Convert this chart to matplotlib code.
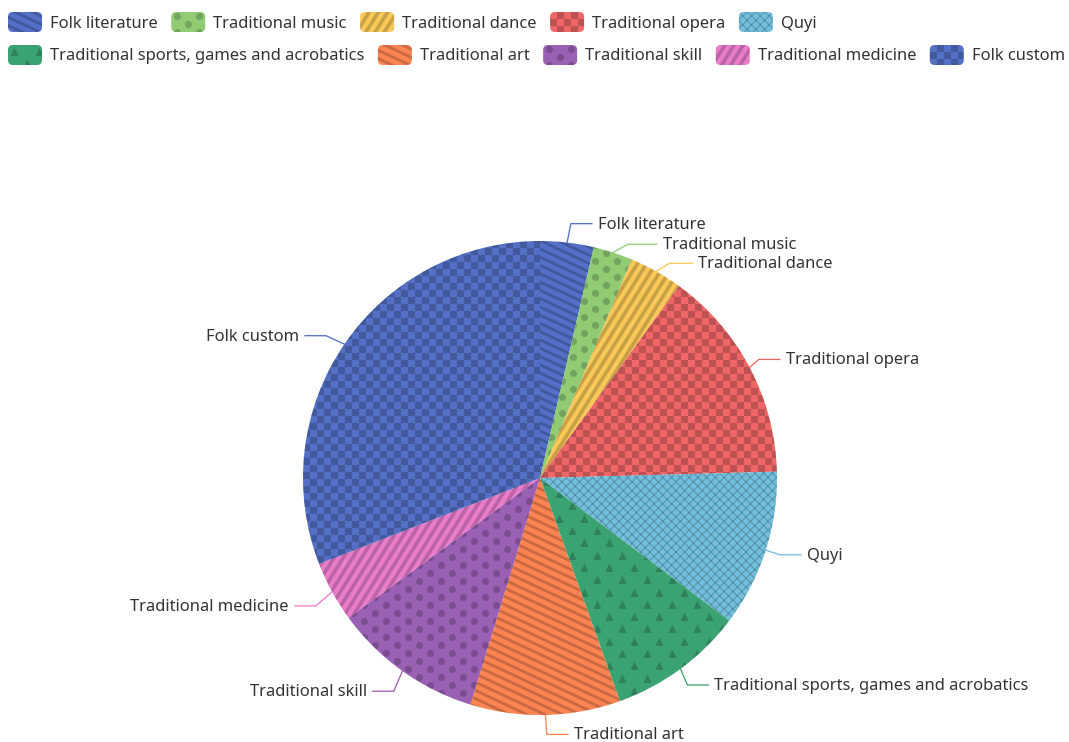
import matplotlib.pyplot as plt
import numpy as np
from matplotlib.patches import FancyBboxPatch
from matplotlib.collections import LineCollection

plt.rcParams['font.family'] = ['Noto Sans', 'DejaVu Sans']

categories = ['Folk literature', 'Traditional music', 'Traditional dance',
              'Traditional opera', 'Quyi', 'Traditional sports, games and acrobatics',
              'Traditional art', 'Traditional skill', 'Traditional medicine', 'Folk custom']
counts = [15, 11, 15, 60, 44, 38, 42, 42, 17, 127]

colors = ['#5470c6', '#91cc75', '#fac858', '#ee6666', '#73c0de',
          '#3ba272', '#fc8452', '#9a60b4', '#ea7ccc', '#5470c6']
# fill decoration for each slice
decals = ['back', 'dots', 'fwd', 'checker', 'cross',
          'triangles', 'back', 'dots', 'fwd', 'checker']

W, H, DPI = 1069, 742, 100
SHADE = (0, 0, 0, 0.2)
FS = 11.9
TXT = '#333333'

fig = plt.figure(figsize=(W / DPI, H / DPI), dpi=DPI)
ax = fig.add_axes([0, 0, 1, 1])


def px(v):
    return v * 72 / DPI


def add_lines(clip, box, theta, gap, width):
    x0, y0, x1, y1 = box
    cx, cy = (x0 + x1) / 2, (y0 + y1) / 2
    R = np.hypot(x1 - x0, y1 - y0) / 2 + gap
    t = np.radians(theta)
    d = np.array([np.cos(t), np.sin(t)])
    n = np.array([-np.sin(t), np.cos(t)])
    segs = []
    for k in np.arange(-R, R, gap):
        p = np.array([cx, cy]) + n * k
        segs.append([p - d * R, p + d * R])
    lc = LineCollection(segs, colors=[SHADE], linewidths=px(width), zorder=3)
    ax.add_collection(lc)
    lc.set_clip_path(clip)


def add_marks(clip, box, gx, gy, marker, size):
    x0, y0, x1, y1 = box
    xs, ys = [], []
    for i, y in enumerate(np.arange(y0 + gy / 2, y1 + gy, gy)):
        off = gx / 2 if i % 2 else 0
        for x in np.arange(x0 + gx / 4 + off, x1 + gx, gx):
            xs.append(x)
            ys.append(y)
    sc = ax.scatter(xs, ys, s=size, marker=marker, color=SHADE, linewidths=0, zorder=3)
    sc.set_clip_path(clip)


def add_checker(clip, box, cell):
    x0, y0, x1, y1 = box
    nx = int(np.ceil((x1 - x0) / cell))
    ny = int(np.ceil((y1 - y0) / cell))
    img = np.zeros((ny, nx, 4))
    mask = (np.add.outer(np.arange(ny), np.arange(nx)) % 2) == 1
    img[mask] = SHADE
    im = ax.imshow(img, extent=(x0, x0 + nx * cell, y0 + ny * cell, y0),
                   interpolation='nearest', zorder=3)
    im.set_clip_path(clip)


def decorate(patch, kind, box):
    if kind == 'back':
        add_lines(patch, box, 25, 7.5, 2.8)
    elif kind == 'fwd':
        add_lines(patch, box, -58, 7.8, 3.6)
    elif kind == 'dots':
        add_marks(patch, box, 22, 8, 'o', 26)
    elif kind == 'triangles':
        add_marks(patch, box, 25, 12.3, '^', 30)
    elif kind == 'checker':
        add_checker(patch, box, 7)
    elif kind == 'cross':
        add_lines(patch, box, 45, 6.2, 1.2)
        add_lines(patch, box, -45, 6.2, 1.2)


# pie (axes use pixel coordinates with y pointing down)
cx, cy, r = 540, 478, 237
wedges, _ = ax.pie(counts, colors=colors, center=(cx, cy), radius=r,
                   startangle=-90, counterclock=True,
                   wedgeprops=dict(linewidth=0))
pie_box = (cx - r, cy - r, cx + r, cy + r)
for w, kind in zip(wedges, decals):
    decorate(w, kind, pie_box)

# outside labels with leader lines; (dx, dy, extra) shift crowded labels
nudges = {0: (2, -4, 0), 1: (10, 6, 8), 2: (6, 5, 2), 3: (-4, -1, 0),
          5: (-2, 4, 0), 6: (1, 4.5, 0), 7: (0, 8, 0), 8: (-3, 7, 0), 9: (-6, 0, 0)}
for i, (w, name, col) in enumerate(zip(wedges, categories, colors)):
    a = np.radians((w.theta1 + w.theta2) / 2)
    p0 = (cx + r * np.cos(a), cy + r * np.sin(a))
    dx, dy, extra = nudges.get(i, (0, 0, 0))
    p1 = (cx + (r + 15) * np.cos(a) + dx, cy + (r + 15) * np.sin(a) + dy)
    side = 1 if np.cos(a) >= 0 else -1
    p2 = (p1[0] + side * (21 + extra), p1[1])
    ax.plot([p0[0], p1[0], p2[0]], [p0[1], p1[1], p2[1]], color=col, lw=px(1.3), zorder=4)
    ax.text(p2[0] + side * 6, p2[1] + 1, name, fontsize=FS, color=TXT,
            ha='left' if side > 0 else 'right', va='center', zorder=5)

# legend: patterned rounded icons, wrapped into rows
renderer = fig.canvas.get_renderer()
x, row_y = 8, 22
icon_w, icon_h = 34, 20
for name, col, kind in zip(categories, colors, decals):
    t = ax.text(0, 0, name, fontsize=FS, color=TXT, va='center', ha='left')
    tw = t.get_window_extent(renderer).width
    if x + icon_w + 8 + tw > W:
        x, row_y = 8, row_y + 33
    icon = FancyBboxPatch((x, row_y - icon_h / 2), icon_w, icon_h,
                          boxstyle='round,pad=0,rounding_size=5',
                          facecolor=col, edgecolor='none', zorder=2)
    ax.add_patch(icon)
    decorate(icon, kind, (x, row_y - icon_h / 2, x + icon_w, row_y + icon_h / 2))
    t.set_position((x + icon_w + 8, row_y + 1.5))
    x += icon_w + 8 + tw + 13.5

ax.set_xlim(0, W)
ax.set_ylim(H, 0)
ax.set_aspect('auto')
ax.axis('off')

fig.savefig('out.png', dpi=DPI)
